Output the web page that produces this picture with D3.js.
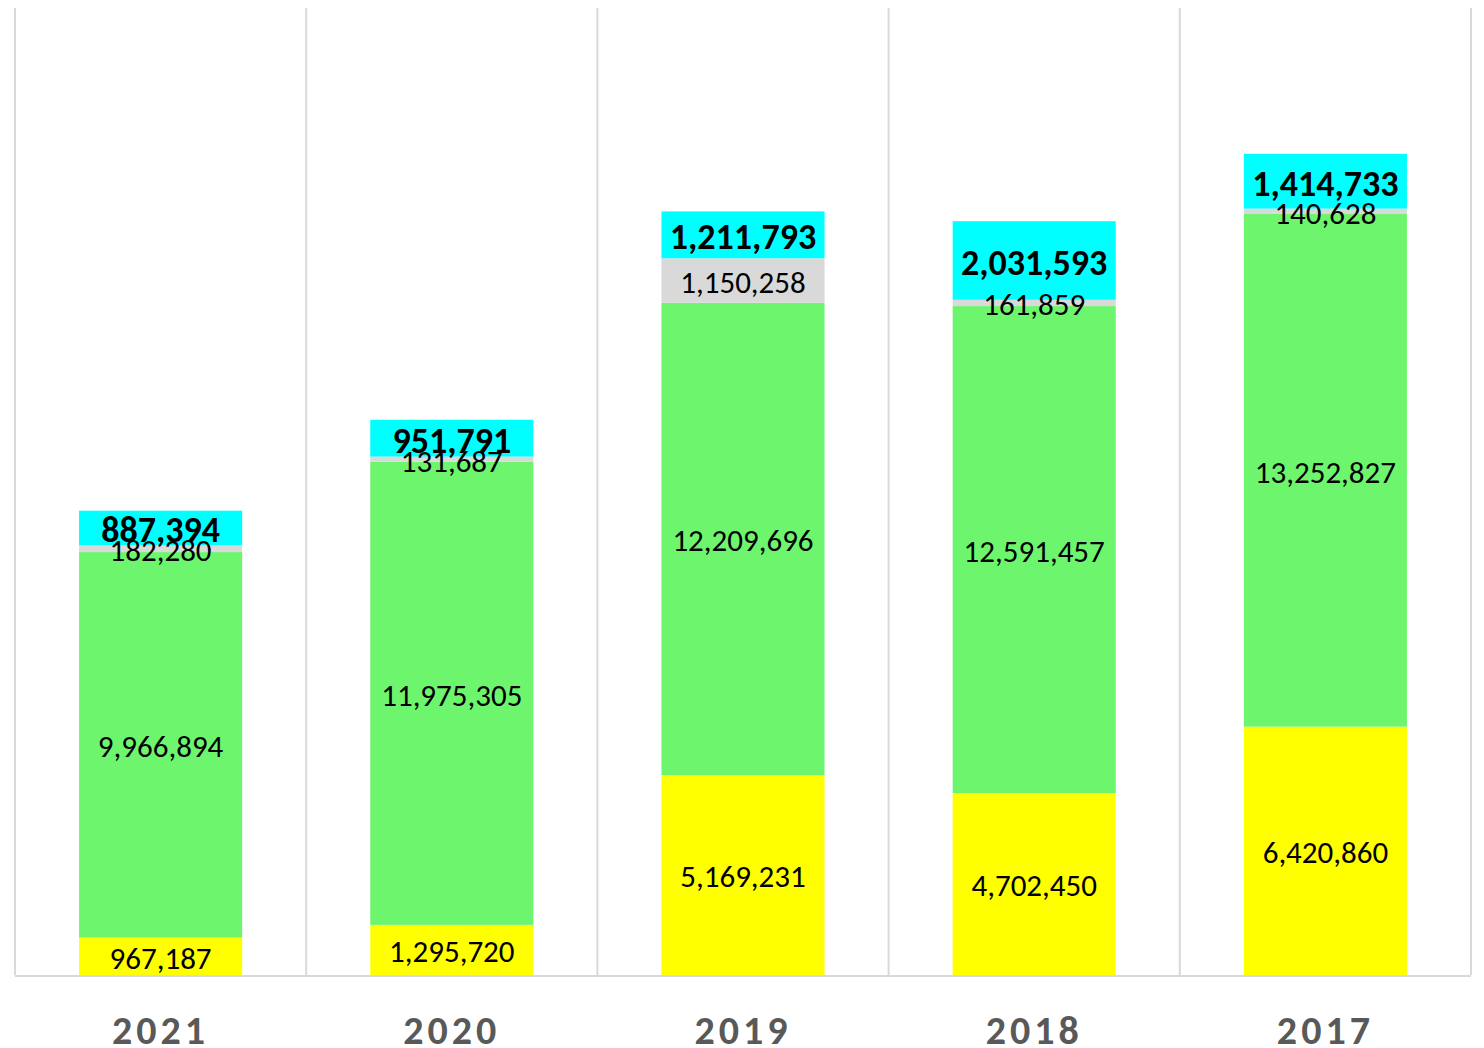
<!DOCTYPE html>
<html lang="en">
<head>
<title>Stacked bars</title>
<meta charset="utf-8">
<script src="https://d3js.org/d3.v7.min.js"></script>
<style>
	body { margin: 0; background: #fff; }
	svg { display: block; font-family: Carlito, Lato, "Open Sans", sans-serif; }
</style>
</head>
<body>
<div id="chart"></div>
<script>
	// data
	var years = ["2021", "2020", "2019", "2018", "2017"];
	var yellow = [967187, 1295720, 5169231, 4702450, 6420860];
	var green = [9966894, 11975305, 12209696, 12591457, 13252827];
	var gray = [182280, 131687, 1150258, 161859, 140628];
	var cyan = [887394, 951791, 1211793, 2031593, 1414733];
	var seriesNames = ["yellow", "green", "gray", "cyan"];
	var colors = ["#ffff00", "#6ef56e", "#d9d9d9", "#00ffff"];

	var width = 1484, height = 1048;
	var plotLeft = 15, plotRight = 1471, plotTop = 8, plotBottom = 975;

	var rows = years.map(function(y, i) {
		return {year: y, yellow: yellow[i], green: green[i], gray: gray[i], cyan: cyan[i]};
	});
	var stacked = d3.stack().keys(seriesNames)(rows);

	var x = d3.scaleBand()
		.domain(years)
		.range([plotLeft, plotRight])
		.paddingInner(0.44)
		.paddingOuter(0.22);
	var y = d3.scaleLinear()
		.domain([0, 25000000])
		.range([plotBottom, plotTop]);

	var svg = d3.select("#chart").append("svg")
		.attr("width", width)
		.attr("height", height);

	// vertical separators between categories
	var edges = years.map(function(d) { return x(d) - x.step() * 0.22; });
	edges.push(plotRight);
	svg.selectAll(".sep")
		.data(edges)
		.enter()
		.append("line")
		.attr("class", "sep")
		.attr("x1", function(d) { return d; })
		.attr("x2", function(d) { return d; })
		.attr("y1", plotTop)
		.attr("y2", plotBottom)
		.attr("stroke", "#d9d9d9")
		.attr("stroke-width", 2);

	var groups = svg.selectAll(".layer")
		.data(stacked)
		.enter()
		.append("g")
		.attr("class", "layer")
		.attr("fill", function(d, i) { return colors[i]; });

	groups.selectAll("rect")
		.data(function(d) { return d; })
		.enter()
		.append("rect")
		.attr("x", function(d) { return x(d.data.year); })
		.attr("width", x.bandwidth())
		.attr("y", function(d) { return y(d[1]); })
		.attr("height", function(d) { return y(d[0]) - y(d[1]); });

	// baseline
	svg.append("line")
		.attr("x1", plotLeft)
		.attr("x2", plotRight)
		.attr("y1", plotBottom + 1)
		.attr("y2", plotBottom + 1)
		.attr("stroke", "#d9d9d9")
		.attr("stroke-width", 2);

	// segment labels
	var fmt = d3.format(",");
	stacked.forEach(function(layer) {
		var isTop = layer.key === "cyan";
		svg.selectAll(".lab-" + layer.key)
			.data(layer)
			.enter()
			.append("text")
			.attr("class", "lab-" + layer.key)
			.attr("x", function(d) { return x(d.data.year) + x.bandwidth() / 2; })
			.attr("y", function(d) { return (y(d[0]) + y(d[1])) / 2; })
			.attr("dy", "0.4em")
			.attr("text-anchor", "middle")
			.attr("font-size", isTop ? 36 : 31)
			.attr("font-weight", isTop ? "bold" : "normal")
			.attr("fill", "#000")
			.text(function(d) { return fmt(d[1] - d[0]); });
	});

	// x axis labels
	var xAxis = d3.axisBottom(x).tickSize(0).tickPadding(0);
	var ax = svg.append("g")
		.attr("transform", "translate(0," + plotBottom + ")")
		.call(xAxis);
	ax.select(".domain").remove();
	ax.selectAll("text")
		.attr("y", 55)
		.attr("dy", "0.36em")
		.attr("font-family", "Carlito, Lato, 'Open Sans', sans-serif")
		.attr("font-size", 40)
		.attr("font-weight", "bold")
		.attr("letter-spacing", 4)
		.attr("fill", "#595959");
</script>
</body>
</html>
